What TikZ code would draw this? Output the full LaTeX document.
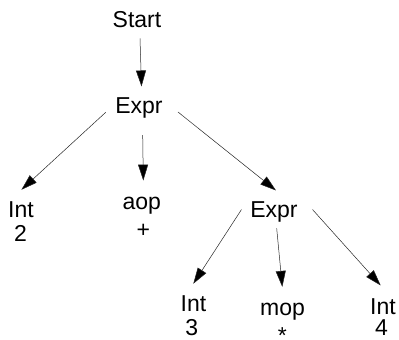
\documentclass[tikz,border=0pt]{standalone}
\usepackage{fontspec}
\setmainfont{Liberation Sans}
\usetikzlibrary{arrows.meta}

\tikzset{
  lbl/.style={inner sep=0pt, anchor=base, font=\fontsize{23}{27}\selectfont},
  edge/.style={line width=0.5pt, draw=black!85,
    -{Triangle[length=16pt,width=10pt,fill=black]}}
}

\begin{document}
\begin{tikzpicture}[x=1pt, y=-1pt]
  \useasboundingbox (0,0) rectangle (399,340);

  % parse tree nodes (positions are baselines)
  \node[lbl] (start) at (137,27.5)  {Start};
  \node[lbl] (e1)    at (139,113)   {Expr};
  \node[lbl] (i2)    at (21,217.3)  {Int};
  \node[lbl] (v2)    at (20.5,241.7){2};
  \node[lbl] (aop)   at (141.7,209) {aop};
  \node[lbl] (vplus) at (143.3,237) {+};
  \node[lbl] (e2)    at (274,217.5) {Expr};
  \node[lbl] (i3)    at (193.5,311.7){Int};
  \node[lbl] (v3)    at (191.7,335.5){3};
  \node[lbl] (mop)   at (282.5,315) {mop};
  % the star sits low in its line; keep its box inside the page
  \node[lbl] (vstar) at (282.3,338.5){\raisebox{-5pt}[\height][0pt]{*}};
  \node[lbl] (i4)    at (383,314)   {Int};
  \node[lbl] (v4)    at (381.5,335.5){4};

  % edges
  \draw[edge] ([shift={(3,10.5)}]start.south) -- ([shift={(2.5,-10.5)}]e1.north);
  \draw[edge] ([shift={(-9.4,4.8)}]e1.west)   -- ([shift={(0.4,-11.5)}]i2.north);
  \draw[edge] ([shift={(3.7,17.2)}]e1.south)  -- ([shift={(1.6,-15.8)}]aop.north);
  \draw[edge] ([shift={(15.1,4.5)}]e1.east)   -- ([shift={(2,-11)}]e2.north);
  \draw[edge] ([shift={(-8.7,-2.4)}]e2.west)  -- ([shift={(-0.2,-11.9)}]i3.north);
  \draw[edge] ([shift={(2.7,6)}]e2.south)     -- ([shift={(-0.2,-15.5)}]mop.north);
  \draw[edge] ([shift={(14.7,-2.4)}]e2.east)  -- ([shift={(-2.3,-12.5)}]i4.north);
\end{tikzpicture}
\end{document}
